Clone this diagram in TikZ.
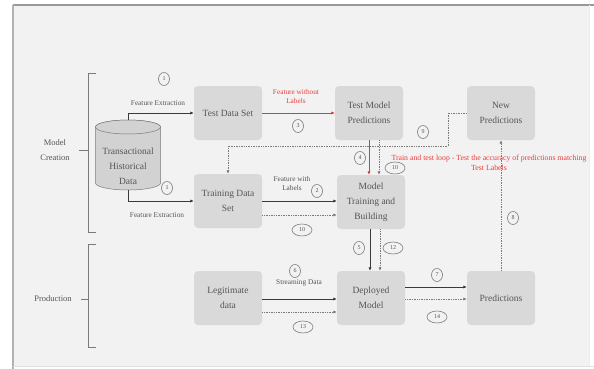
\documentclass[tikz,border=0pt]{standalone}
\usepackage{fontspec}
\setmainfont{Liberation Serif}
\usetikzlibrary{arrows.meta,shapes.geometric}
\definecolor{bg}{HTML}{F2F2F2}
\definecolor{boxgray}{HTML}{D9D9D9}
\definecolor{cylfill}{HTML}{D2D2D2}
\definecolor{txtgray}{HTML}{555555}
\definecolor{linegray}{HTML}{3A3A3A}
\definecolor{dotgray}{HTML}{7A7A7A}
\definecolor{redline}{HTML}{E8343A}
\definecolor{redtxt}{HTML}{F03A3A}
\tikzset{
  box/.style={rectangle, rounded corners=4pt, fill=boxgray, minimum width=68pt, minimum height=54pt,
    align=center, font=\fontsize{9.5}{15}\selectfont, text=txtgray, inner sep=2pt},
  lbl/.style={font=\fontsize{7.3}{9}\selectfont, text=txtgray, align=center, inner sep=0pt},
  redlbl/.style={lbl, text=redtxt},
  num/.style={ellipse, draw=dotgray, line width=0.6pt, font=\fontsize{6}{7}\selectfont, text=txtgray,
    inner sep=0pt, minimum width=11pt, minimum height=13pt},
  numw/.style={num, minimum width=20pt, minimum height=12pt},
  conn/.style={draw=linegray, line width=0.7pt, -{Latex[length=3.5pt,width=3.2pt]}},
  dconn/.style={conn, draw=dotgray, densely dotted, line width=0.9pt},
  redconn/.style={conn, draw=redline, color=redline, line width=0.9pt},
  brk/.style={draw=dotgray, line width=0.7pt},
}
\begin{document}
\begin{tikzpicture}[x=1pt,y=-1pt]
\useasboundingbox (0,0) rectangle (594,369);
\fill[white] (0,0) rectangle (594,369);
\fill[bg] (13,5) rectangle (589,366);
\draw[gray!80, line width=1.6pt] (13,5) -- (594,5);
\draw[gray!60, line width=1.2pt] (13,5) -- (13,369);
\draw[gray!25, line width=0.8pt] (13,366) -- (594,366);
\draw[gray!15, line width=0.8pt] (589,5) -- (589,366);

% cylinder
\path[fill=cylfill, draw=dotgray, line width=0.5pt] (95.5,127) -- (95.5,183)
  arc[start angle=180, end angle=360, x radius=32.5pt, y radius=7pt] -- (160.5,127)
  arc[start angle=0, end angle=180, x radius=32.5pt, y radius=7pt] -- cycle;
\draw[fill=cylfill, draw=dotgray, line width=0.5pt] (128,127) ellipse [x radius=32.5pt, y radius=7pt];
\node[align=center, font=\fontsize{9.5}{15}\selectfont, text=txtgray] (cyl) at (128,166) {Transactional\\Historical\\Data};
\coordinate (cyltop) at (128,120);
\coordinate (cylbot) at (128,190);

% boxes
\node[box] (tds) at (228,113) {Test Data Set};
\node[box] (tmp) at (369,113) {Test Model\\Predictions};
\node[box] (np) at (501,113) {New\\Predictions};
\node[box] (trds) at (228,201) {Training Data\\Set};
\node[box] (mtb) at (371,202) {Model\\Training and\\Building};
\node[box] (ld) at (228,298) {Legitimate\\data};
\node[box] (dm) at (371,298) {Deployed\\Model};
\node[box] (pr) at (501,298) {Predictions};

% brackets
\draw[brk] (96,73) -- (88,73) -- (88,232) -- (96,232);
\draw[brk] (79,150) -- (88,150);
\draw[brk] (96,244) -- (88,244) -- (88,347) -- (96,347);
\draw[brk] (81,299) -- (88,299);
\node[lbl, font=\fontsize{8.5}{15}\selectfont] (lmc) at (55,150) {Model\\Creation};
\node[lbl, font=\fontsize{8.5}{10}\selectfont] (lpr) at (53,299) {Production};

% connectors
\draw[conn] (cyltop) |- (tds.west);
\draw[conn] (cylbot) |- (trds.west);
\draw[redconn] (tds.east) -- (tmp.west);
\draw[conn] (trds.east) -- (trds.east -| mtb.west);
\draw[dconn] ([yshift=-14pt]trds.east) -- ([yshift=-14pt]trds.east -| mtb.west);
\draw[redconn] (tmp.south) -- (tmp.south |- mtb.north);
\draw[dconn] ([xshift=10pt]tmp.south) -- ([xshift=10pt]tmp.south |- mtb.north);
\coordinate (lp1) at (448,146);
\draw[dconn] (np.west) -| (lp1) -| (trds.north);
\draw[conn] ([xshift=-1pt]mtb.south) -- ([xshift=-1pt]mtb.south |- dm.north);
\draw[dconn] ([xshift=9pt]mtb.south) -- ([xshift=9pt]mtb.south |- dm.north);
\draw[conn] ([yshift=-1pt]ld.east) -- ([yshift=-1pt]ld.east -| dm.west);
\draw[dconn] ([yshift=-14pt]ld.east) -- ([yshift=-14pt]ld.east -| dm.west);
\draw[conn] ([yshift=11pt]dm.east) -- ([yshift=11pt]dm.east -| pr.west);
\draw[dconn] ([yshift=-1pt]dm.east) -- ([yshift=-1pt]dm.east -| pr.west);
\draw[dconn] (pr.north) -- (np.south);

% labels
\node[lbl] (fe1) at (158,103) {Feature Extraction};
\node[lbl] (fe2) at (157,215) {Feature Extraction};
\node[num] (n1a) at (164,79) {1};
\node[num] (n1b) at (167,188) {1};
\node[redlbl] (fwl) at (296,97) {Feature without\\Labels};
\node[num] (n3) at (298,126) {3};
\node[lbl] (fwl2) at (292,184) {Feature with\\Labels};
\node[num] (n2) at (317,191) {2};
\node[numw] (n10a) at (302,230) {10};
\node[num] (n4) at (360,158) {4};
\node[numw] (n10b) at (395,168) {10};
\node[num] (n9) at (423,132) {9};
\node[redlbl, font=\fontsize{7.8}{10}\selectfont] (loop) at (489,163) {Train and test loop - Test the accuracy of predictions matching\\Test Labels};
\node[num] (n5) at (359,248) {5};
\node[numw] (n12) at (393,248) {12};
\node[num] (n8) at (513,218) {8};
\node[num] (n6) at (295,271) {6};
\node[lbl] (sd) at (299,283) {Streaming Data};
\node[numw] (n13) at (303,327) {13};
\node[num] (n7) at (437,275) {7};
\node[numw] (n14) at (437,317) {14};
\end{tikzpicture}
\end{document}
